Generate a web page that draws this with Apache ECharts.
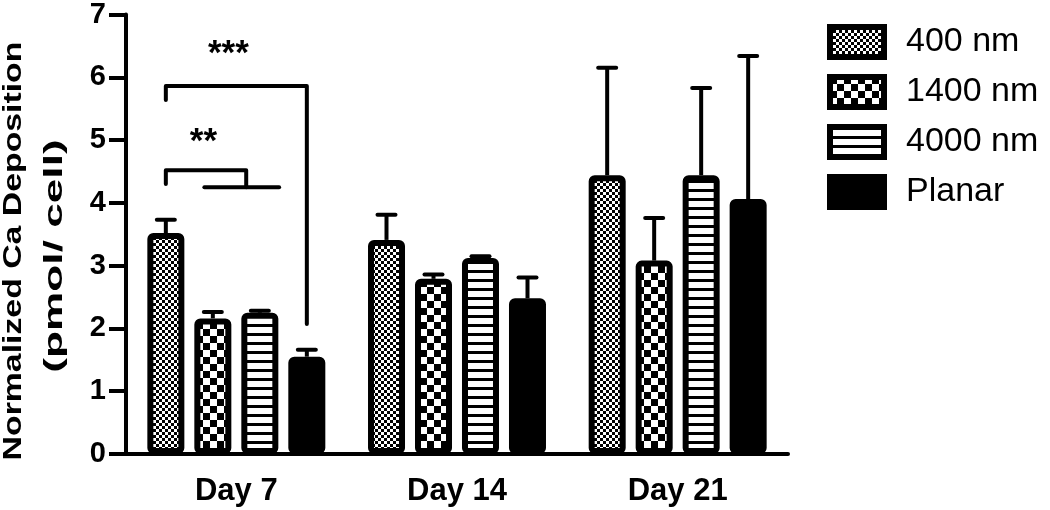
<!DOCTYPE html>
<html><head><meta charset="utf-8">
<script src="https://cdn.jsdelivr.net/npm/echarts@6/dist/echarts.min.js"></script>
<style>html,body{margin:0;background:#fff}#c{width:1050px;height:510px}</style>
</head><body><div id="c"></div>
<script>
// ---- data ----
const categories = ['Day 7', 'Day 14', 'Day 21'];
const seriesNames = ['400 nm', '1400 nm', '4000 nm', 'Planar'];
const mean400 = [3.52, 3.41, 4.44];
const err400 = [0.21, 0.40, 1.71];
const mean1400 = [2.16, 2.79, 3.08];
const err1400 = [0.10, 0.07, 0.68];
const mean4000 = [2.25, 3.12, 4.44];
const err4000 = [0.03, 0.03, 1.39];
const meanPlanar = [1.55, 2.48, 4.06];
const errPlanar = [0.11, 0.33, 2.28];
const yTicks = [0, 1, 2, 3, 4, 5, 6, 7];
// significance annotations (Day 7), values in data units
const sigLabels = ['***', '**'];
const sigLineY = [5.86, 4.52];
const sigLeftDrop = [5.64, 4.30];
const sigRightDrop = [2.07, 4.25];
const sigLabelY = [6.37, 4.96];
const yTitleLines = ['Normalized Ca Deposition', '(pmol/ cell)'];

// ---- styling ----
const FONT = '"Liberation Sans", Arial, Helvetica, sans-serif';
const BAR_W = 37, GAP = 10, PITCH = BAR_W + GAP;
function checker(size) {
  const c = document.createElement('canvas');
  c.width = c.height = size * 2;
  const x = c.getContext('2d');
  x.fillStyle = '#fff'; x.fillRect(0, 0, size * 2, size * 2);
  x.fillStyle = '#000'; x.fillRect(0, 0, size, size); x.fillRect(size, size, size, size);
  return { image: c, repeat: 'repeat' };
}
function stripes() {
  const c = document.createElement('canvas');
  c.width = 8; c.height = 9;
  const x = c.getContext('2d');
  x.fillStyle = '#fff'; x.fillRect(0, 0, 8, 9);
  x.fillStyle = '#000'; x.fillRect(0, 0, 8, 3);
  return { image: c, repeat: 'repeat' };
}
const fills = [checker(3), checker(7), stripes(), '#000'];
const means = [mean400, mean1400, mean4000, meanPlanar];
const errs = [err400, err1400, err4000, errPlanar];

const barSeries = seriesNames.map((n, s) => ({
  name: n, type: 'bar', z: 3,
  barWidth: BAR_W, barGap: (GAP / BAR_W * 100).toFixed(1) + '%',
  data: means[s],
  itemStyle: { color: fills[s], borderColor: '#000', borderWidth: 6, borderRadius: 3 }
}));

const errData = [];
means.forEach((m, s) => m.forEach((v, c) => errData.push([c, v, v + errs[s][c], s])));

const errSeries = {
  type: 'custom', z: 4, silent: true,
  data: errData, encode: { x: 0, y: [1, 2] },
  renderItem(params, api) {
    const c = api.value(0), s = api.value(3);
    const p0 = api.coord([c, api.value(1)]);
    const p1 = api.coord([c, api.value(2)]);
    const xc = p0[0] + (s - 1.5) * PITCH;
    const st = { stroke: '#000', lineWidth: 4, lineCap: 'butt' };
    return { type: 'group', children: [
      { type: 'line', shape: { x1: xc, y1: p0[1], x2: xc, y2: p1[1] }, style: st },
      { type: 'line', shape: { x1: xc - 9, y1: p1[1], x2: xc + 9, y2: p1[1] }, style: Object.assign({}, st, { lineCap: 'round' }) }
    ] };
  }
};

// bracket geometry in bar-index units within the category group
const BR_GEOM = [
  { left: 0, right: 3, label: 1.33 },
  { left: 0, right: 1.71, label: 0.80, lowFrom: 0.82, lowTo: 2.41 }
];
const sigSeries = {
  type: 'custom', z: 4, silent: true, clip: false,
  data: sigLabels.map((l, i) => [0, sigLineY[i]]),
  encode: { x: 0, y: 1 },
  renderItem(params, api) {
    const i = params.dataIndex, g = BR_GEOM[i];
    const cx = api.coord([0, 0])[0];
    const bx = u => cx + (u - 1.5) * PITCH;
    const y = v => api.coord([0, v])[1];
    const st = { stroke: '#000', fill: null, lineWidth: 4, lineCap: 'round', lineJoin: 'round' };
    const kids = [
      { type: 'polyline', shape: { points: [
        [bx(g.left), y(sigLeftDrop[i])], [bx(g.left), y(sigLineY[i])],
        [bx(g.right), y(sigLineY[i])], [bx(g.right), y(sigRightDrop[i])]
      ] }, style: st },
      { type: 'text', x: bx(g.label), y: y(sigLabelY[i]), style: {
        text: sigLabels[i], font: 'bold 35px ' + FONT, fill: '#000', align: 'center', verticalAlign: 'middle' } }
    ];
    if (g.lowFrom !== undefined) {
      kids.push({ type: 'line', shape: { x1: bx(g.lowFrom), y1: y(sigRightDrop[i]), x2: bx(g.lowTo), y2: y(sigRightDrop[i]) }, style: st });
    }
    return { type: 'group', children: kids };
  }
};

const chart = echarts.init(document.getElementById('c'), null, { renderer: 'canvas' });
chart.setOption({
  animation: false,
  backgroundColor: '#fff',
  textStyle: { fontFamily: FONT },
  grid: { left: 126, right: 262, top: 11, bottom: 56, containLabel: false },
  legend: {
    data: seriesNames, orient: 'vertical', left: 822, top: 19,
    icon: 'rect', itemWidth: 54, itemHeight: 30, itemGap: 14,
    itemStyle: { borderColor: '#000', borderWidth: 6 },
    textStyle: { fontSize: 34, lineHeight: 30, color: '#000', fontFamily: FONT, padding: [0, 0, 0, 17] },
    selectedMode: false
  },
  xAxis: {
    type: 'category', data: categories,
    axisLine: { lineStyle: { color: '#000', width: 4 } },
    axisTick: { alignWithLabel: true, length: 15, lineStyle: { color: '#000', width: 4 } },
    axisLabel: { color: '#000', fontSize: 31, fontWeight: 'bold', margin: 22, fontFamily: FONT }
  },
  yAxis: {
    type: 'value', min: yTicks[0], max: yTicks[yTicks.length - 1], interval: 1,
    splitLine: { show: false },
    axisLine: { show: true, lineStyle: { color: '#000', width: 4 } },
    axisTick: { show: true, length: 17, lineStyle: { color: '#000', width: 4 } },
    axisLabel: { color: '#000', fontSize: 29, fontWeight: 'bold', margin: 20, fontFamily: FONT }
  },
  graphic: [
    { type: 'text', x: 14, y: 251, rotation: Math.PI / 2, scaleX: 1.3,
      style: { text: yTitleLines[0], font: 'bold 26px ' + FONT, fill: '#000', align: 'center', verticalAlign: 'middle' } },
    { type: 'text', x: 55, y: 256, rotation: Math.PI / 2, scaleX: 1.7,
      style: { text: yTitleLines[1], font: 'bold 26px ' + FONT, fill: '#000', align: 'center', verticalAlign: 'middle' } }
  ],
  series: barSeries.concat([errSeries, sigSeries])
});
</script></body></html>
